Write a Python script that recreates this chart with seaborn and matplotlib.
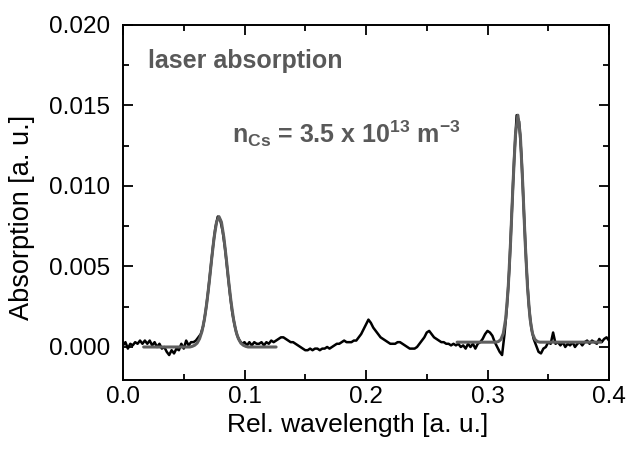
import numpy as np
import pandas as pd
import matplotlib
matplotlib.use("Agg")
import matplotlib.pyplot as plt
import seaborn as sns
from matplotlib.ticker import MultipleLocator, FormatStrFormatter

# ---------------- data (absorption values in units of 1e-4) ----------------
wavelength_start = 0.0
wavelength_step = 0.002
measured_e4 = [
    1, 3, -1, 2, 1, 3, 2, 4, 2, 4,          # 0.000 - 0.018
    2, 4, 1, 3, 0, 2, -1, 0, -3, -5,        # 0.020 - 0.038
    -2, -4, -1, -2, 2, -1, 4, 1, 3, 3,      # 0.040 - 0.058
    4, 6, 8, 13, 22, 34, 48, 62, 74, 81,    # 0.060 - 0.078
    79, 72, 61, 47, 33, 21, 13, 7, 4, 2,    # 0.080 - 0.098
    3, 1, 3, 1, 3, 2, 2, 3, 1, 3,           # 0.100 - 0.118
    2, 4, 3, 4, 5, 6, 6, 5, 4, 3,           # 0.120 - 0.138
    3, 2, 1, 0, -1, -2, -2, -1, -2, -1,     # 0.140 - 0.158
    -1, -2, -1, -1, 0, -1, 0, 1, 2, 2,      # 0.160 - 0.178
    3, 4, 3, 3, 3, 4, 4, 6, 8, 11,          # 0.180 - 0.198
    14, 17, 15, 12, 10, 8, 6, 5, 4, 3,      # 0.200 - 0.218
    2, 2, 2, 3, 3, 2, 1, 0, -1, -1,         # 0.220 - 0.238
    -1, 0, 2, 4, 6, 9, 10, 8, 6, 5,         # 0.240 - 0.258
    4, 3, 3, 2, 2, 1, 2, 1, 2, 0,           # 0.260 - 0.278
    1, -1, 2, 0, 2, -1, 2, 3, 5, 8,         # 0.280 - 0.298
    10, 9, 7, 3, 0, -3, -5, 8, 25, 49,      # 0.300 - 0.318
    83, 118, 144, 140, 118, 83, 50, 26, 12, 5,  # 0.320 - 0.338
    1, -3, -4, -1, 0, 3, 2, 9, 2, 3,        # 0.340 - 0.358
    1, 3, 0, 2, 1, 3, 0, 2, 3, 1,           # 0.360 - 0.378
    3, 4, 2, 4, 3, 2, 5, 3, 5, 6,           # 0.380 - 0.398
    4,                                      # 0.400
]

fit1_x = [0.017, 0.055, 0.057, 0.059, 0.061, 0.063, 0.065, 0.067, 0.069, 0.071,
          0.073, 0.075, 0.077, 0.079, 0.081, 0.083, 0.085, 0.087, 0.089, 0.091,
          0.093, 0.095, 0.097, 0.099, 0.101, 0.103, 0.126]
fit1_e4 = [0.0, 0.0, 0.4, 1.1, 2.4, 5.1, 9.7, 17.1, 27.5, 40.5,
           54.9, 68.1, 77.6, 81.0, 77.6, 68.1, 54.9, 40.5, 27.5, 17.1,
           9.7, 5.1, 2.4, 1.1, 0.4, 0.0, 0.0]

fit2_x = [0.275, 0.305, 0.307, 0.309, 0.311, 0.313, 0.315, 0.317, 0.319, 0.321,
          0.323, 0.325, 0.327, 0.329, 0.331, 0.333, 0.335, 0.337, 0.339, 0.341,
          0.343, 0.345, 0.393]
fit2_e4 = [3.0, 3.0, 3.0, 3.4, 4.7, 8.4, 17.7, 36.1, 65.4, 101.2,
           131.8, 144.0, 131.8, 101.2, 65.4, 36.1, 17.7, 8.4, 4.7, 3.4,
           3.0, 3.0, 3.0]

x_ticks = [0.0, 0.1, 0.2, 0.3, 0.4]
y_ticks = [0.000, 0.005, 0.010, 0.015, 0.020]

# ---------------- build tables ----------------
meas_x = np.round(wavelength_start + wavelength_step * np.arange(len(measured_e4)), 4)
df_meas = pd.DataFrame({"x": meas_x, "y": np.array(measured_e4) * 1e-4})
df_fit1 = pd.DataFrame({"x": fit1_x, "y": np.array(fit1_e4) * 1e-4})
df_fit2 = pd.DataFrame({"x": fit2_x, "y": np.array(fit2_e4) * 1e-4})

# ---------------- style ----------------
sns.set_theme(style="ticks")
plt.rcParams.update({
    "font.family": ["Liberation Sans", "DejaVu Sans"],
    "mathtext.fontset": "custom",
    "mathtext.rm": "Liberation Sans:bold",
    "mathtext.it": "Liberation Sans:bold",
    "mathtext.bf": "Liberation Sans:bold",
    "mathtext.default": "rm",
})

W, H = 638, 449
fig = plt.figure(figsize=(W / 100, H / 100), dpi=100)
L, R, T, B = 123, 609, 25, 380
ax = fig.add_axes([L / W, 1 - B / H, (R - L) / W, (B - T) / H])

sns.lineplot(data=df_meas, x="x", y="y", color="black", linewidth=1.8,
             estimator=None, sort=False, ax=ax)
sns.lineplot(data=df_fit1, x="x", y="y", color="#5f5f5f", linewidth=2.2,
             estimator=None, sort=False, ax=ax)
sns.lineplot(data=df_fit2, x="x", y="y", color="#5f5f5f", linewidth=2.2,
             estimator=None, sort=False, ax=ax)

ax.set_xlim(0.0, 0.4)
ax.set_ylim(-0.00205, 0.020)
ax.set_xticks(x_ticks)
ax.set_yticks(y_ticks)
ax.xaxis.set_minor_locator(MultipleLocator(0.05))
ax.yaxis.set_minor_locator(MultipleLocator(0.0025))
ax.xaxis.set_major_formatter(FormatStrFormatter("%.1f"))
ax.yaxis.set_major_formatter(FormatStrFormatter("%.3f"))

ax.tick_params(which="both", direction="in", top=True, right=True,
               width=1.3, color="black", labelcolor="black")
ax.tick_params(which="major", length=7, labelsize=17.5)
ax.tick_params(which="minor", length=4)
ax.tick_params(axis="y", which="major", pad=9)
ax.tick_params(axis="x", which="major", pad=4)
for s in ax.spines.values():
    s.set_linewidth(1.4)
    s.set_color("black")

ax.set_xlabel("Rel. wavelength [a. u.]", fontsize=19, color="black")
ax.set_ylabel("Absorption [a. u.]", fontsize=19.5, color="black")
ax.xaxis.set_label_coords(0.4835, -0.093)
ax.yaxis.set_label_coords(-0.181, 0.459)

ax.text(0.0206, 0.01733, "laser absorption", fontsize=18, fontweight="bold",
        color="#595959", va="baseline", ha="left")
ax.text(0.0897, 0.01268,
        r"n$_{\mathrm{Cs}}$ = 3.5 x 10$^{\mathrm{13}}$ m$^{\mathrm{-3}}$",
        fontsize=18, fontweight="bold", color="#595959", va="baseline", ha="left")

fig.savefig("out.png", dpi=100)
